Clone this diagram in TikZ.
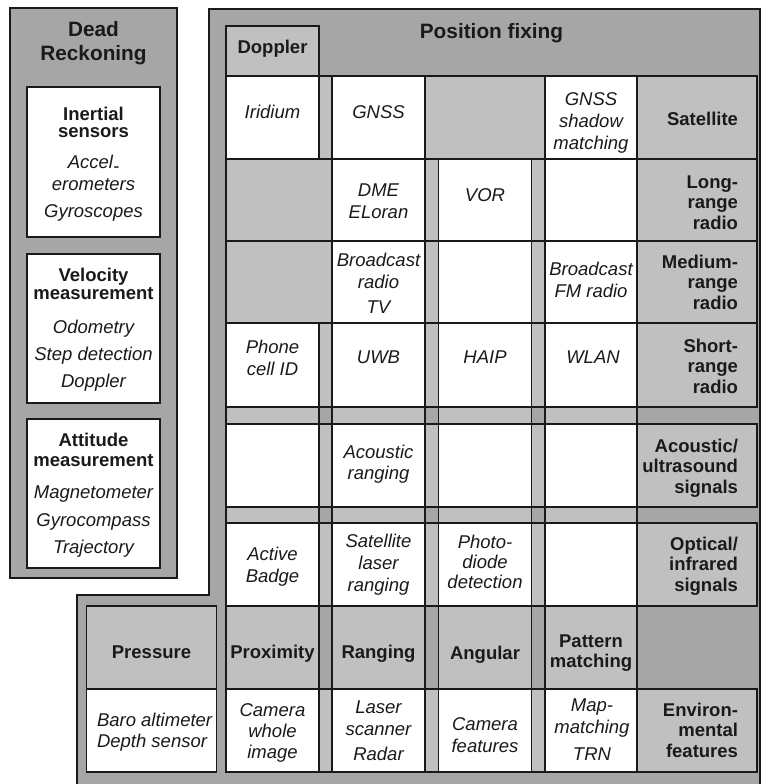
\documentclass[tikz,border=0pt]{standalone}
\usepackage{fontspec}
\setmainfont{Liberation Sans}
\definecolor{bgdark}{HTML}{A6A6A6}
\definecolor{bandgray}{HTML}{C0C0C0}
\definecolor{ink}{HTML}{1A1A1A}

% text settings: italic entries, bold labels, bold titles
\newcommand\itf{\fontsize{18.5}{22}\selectfont\itshape}
\newcommand\bff{\fontsize{18.5}{20.5}\selectfont\bfseries}
\newcommand\ttl{\fontsize{20.8}{23}\selectfont\bfseries}
\newcommand\mixf{\fontsize{18.5}{19}\selectfont}
% stacked lines whose reference point is the first baseline
\newcommand\ctab[1]{\begin{tabular}[t]{@{}c@{}}#1\end{tabular}}
\newcommand\rtab[1]{\begin{tabular}[t]{@{}r@{}}#1\end{tabular}}
\newcommand\ltab[1]{\begin{tabular}[t]{@{}l@{}}#1\end{tabular}}

\begin{document}
\begin{tikzpicture}[x=1pt,y=-1pt,
  frame/.style={fill=bgdark,draw=ink,line width=1.7pt},
  band/.style={fill=bandgray,draw=ink,line width=1.7pt},
  cellbox/.style={fill=white,draw=ink,line width=1.7pt},
  txt/.style={inner sep=0pt,outer sep=0pt,text=ink,anchor=base},
  rtxt/.style={txt,anchor=base east},
  ltxt/.style={txt,anchor=base west}]

\useasboundingbox (0,0) rectangle (761,784);
\clip (0,0) rectangle (761,784);

% ---------- Dead reckoning panel ----------
\draw[frame] (10,8) rectangle (177,578);
\draw[cellbox] (27,87) rectangle (160,237);
\draw[cellbox] (27,254) rectangle (160,403);
\draw[cellbox] (27,419) rectangle (160,568);

% ---------- Position fixing panel ----------
\draw[frame] (209,9) -- (760,9) -- (760,800) -- (77,800) -- (77,595) -- (209,595) -- cycle;

% column bands (measurement principle)
\draw[band] (226,26) rectangle (319,159);      % Doppler
\draw[band] (226,323) rectangle (319,772);     % Proximity
\draw[band] (332,76) rectangle (425,772);      % Ranging
\draw[band] (438.5,159) rectangle (531.5,772); % Angular
\draw[band] (545,76) rectangle (637,772);      % Pattern matching
\draw[band] (86.5,606) rectangle (216.5,772);  % Pressure

% row bands (signal type)
\foreach \ya/\yb in {76/159,159/241,241/323,323/407,424/507,523/606,689/772}
  \draw[band] (226,\ya) rectangle (757,\yb);

% white cells
\foreach \xa/\xb/\ya/\yb in {
  226/319/76/159, 332/425/76/159, 545/637/76/159,
  332/425/159/241, 438.5/531.5/159/241, 545/637/159/241,
  332/425/241/323, 438.5/531.5/241/323, 545/637/241/323,
  226/319/323/407, 332/425/323/407, 438.5/531.5/323/407, 545/637/323/407,
  226/319/424/507, 332/425/424/507, 438.5/531.5/424/507, 545/637/424/507,
  226/319/523/606, 332/425/523/606, 438.5/531.5/523/606, 545/637/523/606,
  86.5/216.5/689/772, 226/319/689/772, 332/425/689/772, 438.5/531.5/689/772, 545/637/689/772}
  \draw[cellbox] (\xa,\ya) rectangle (\xb,\yb);

% ---------- Dead reckoning texts ----------
\node[txt,font=\ttl] (drtitle) at (93.5,37) {\ctab{Dead\\[1pt]Reckoning}};
\node[txt,font=\mixf] (inertial) at (93.5,120) {\ctab{\bfseries Inertial\\[-2pt]\bfseries sensors\\[12pt]\itshape Accel\raisebox{-4pt}{-}\\[3pt]\itshape erometers\\[8pt]\itshape Gyroscopes}};
\node[txt,font=\mixf] (velocity) at (93.5,281) {\ctab{\bfseries Velocity\\[-1pt]\bfseries measurement\\[15pt]\itshape Odometry\\[8pt]\itshape Step detection\\[8pt]\itshape Doppler}};
\node[txt,font=\mixf] (attitude) at (93.5,446) {\ctab{\bfseries Attitude\\[1pt]\bfseries measurement\\[13pt]\itshape Magnetometer\\[9pt]\itshape Gyrocompass\\[8pt]\itshape Trajectory}};

% ---------- Position fixing texts ----------
\node[txt,font=\ttl] (pftitle) at (491.5,38) {Position fixing};
\node[txt,font=\bff] (doppler) at (272.5,53) {Doppler};

\node[txt,font=\itf] (iridium) at (272.5,118) {Iridium};
\node[txt,font=\itf] (gnss) at (378.5,118) {GNSS};
\node[txt,font=\itf] (shadow) at (591,105) {\ctab{GNSS\\shadow\\matching}};
\node[rtxt,font=\bff] (satl) at (738,125) {Satellite};

\node[txt,font=\itf] (dme) at (378.5,196) {\ctab{DME\\ELoran}};
\node[txt,font=\itf] (vor) at (485,201) {VOR};
\node[rtxt,font=\bff] (longl) at (738,188) {\rtab{Long-\\range\\radio}};

\node[txt,font=\itf] (bcast) at (378.5,266) {\ctab{Broadcast\\radio\\[3pt]TV}};
\node[txt,font=\itf] (fm) at (591,275) {\ctab{Broadcast\\FM radio}};
\node[rtxt,font=\bff] (medl) at (738,268) {\rtab{Medium-\\range\\radio}};

\node[txt,font=\itf] (phone) at (272.5,353) {\ctab{Phone\\cell ID}};
\node[txt,font=\itf] (uwb) at (378.5,363) {UWB};
\node[txt,font=\itf] (haip) at (485,363) {HAIP};
\node[txt,font=\itf] (wlan) at (593,363) {WLAN};
\node[rtxt,font=\bff] (shortl) at (738,352) {\rtab{Short-\\range\\radio}};

\node[txt,font=\itf] (acrange) at (378.5,458) {\ctab{Acoustic\\[-1pt]ranging}};
\node[rtxt,font=\bff] (acl) at (738,452) {\rtab{Acoustic/\\ultrasound\\signals}};

\node[txt,font=\itf] (badge) at (272.5,560) {\ctab{Active\\Badge}};
\node[txt,font=\itf] (slr) at (378.5,547) {\ctab{Satellite\\laser\\ranging}};
\node[txt,font=\itf] (photo) at (485,548) {\ctab{Photo-\\[-2pt]diode\\[-2pt]detection}};
\node[rtxt,font=\bff] (optl) at (738,550) {\rtab{Optical/\\infrared\\signals}};

\node[txt,font=\bff] (pressure) at (151.5,658) {Pressure};
\node[txt,font=\bff] (prox) at (272.5,658) {Proximity};
\node[txt,font=\bff] (ranging) at (378.5,658) {Ranging};
\node[txt,font=\bff] (angular) at (485,659) {Angular};
\node[txt,font=\bff] (pattern) at (591,647) {\ctab{Pattern\\matching}};

\node[ltxt,font=\itf] (baro) at (97,726) {\ltab{Baro altimeter\\[-1pt]Depth sensor}};
\node[txt,font=\itf] (camwhole) at (272.5,716) {\ctab{Camera\\[-1pt]whole\\[-1pt]image}};
\node[txt,font=\itf] (laser) at (378.5,713) {\ctab{Laser\\scanner\\[3pt]Radar}};
\node[txt,font=\itf] (camfeat) at (485,730) {\ctab{Camera\\features}};
\node[txt,font=\itf] (mapm) at (592,711) {\ctab{Map-\\matching\\[5pt]TRN}};
\node[rtxt,font=\bff] (envl) at (738,716) {\rtab{Environ-\\mental\\features}};

\end{tikzpicture}
\end{document}
